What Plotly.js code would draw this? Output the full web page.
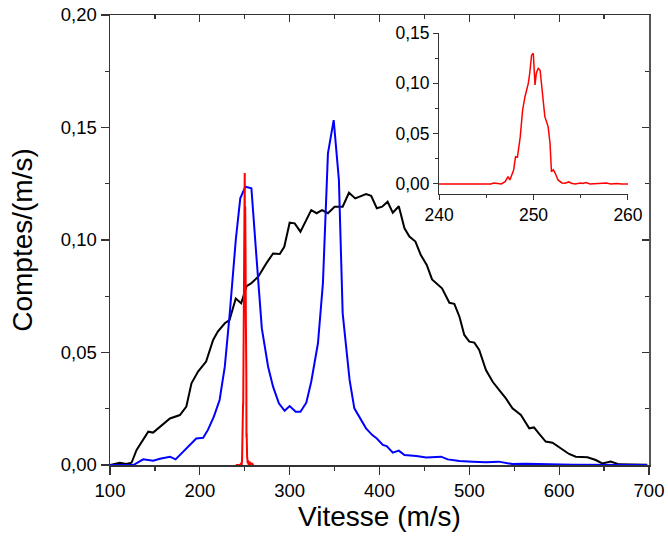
<!DOCTYPE html>
<html>
<head>
<meta charset="utf-8">
<script src="https://cdn.plot.ly/plotly-3.0.1.min.js"></script>
<style>html,body{margin:0;padding:0;background:#fff;}#chart{width:668px;height:538px;}</style>
</head>
<body>
<div id="chart"></div>
<script>
// Black curve
const blackV = [100,111,118,124,129.6,142.6,148,157,166.7,177.8,185,190.7,198,207,214.8,220,227.8,233,240,246,252,257,265,274,281.5,289,294,300,305.6,312,318.5,324,330,336,342.6,350,359,366,373,385,390.7,397,403,409,414.8,421.5,427.8,433.3,440,446,452.6,458.5,469.6,477.8,483.3,489,494.4,500,505.6,511,518.5,526,533.3,540.7,548,557.4,566.7,572,577.8,585,592.6,602,611,618.5,631.5,640.7,648,657.4,666.7,681.5,698];
const blackY = [0,0.001,0.0005,0.001,0.0067,0.0148,0.0144,0.0173,0.0207,0.0222,0.026,0.0363,0.0415,0.046,0.0556,0.0593,0.063,0.0644,0.074,0.0719,0.0795,0.0807,0.0837,0.0896,0.094,0.0938,0.097,0.1077,0.1074,0.1037,0.1089,0.1133,0.1119,0.1133,0.1119,0.1148,0.1148,0.121,0.1185,0.1204,0.1196,0.1141,0.1148,0.117,0.1121,0.115,0.1052,0.1015,0.0993,0.0933,0.0889,0.0825,0.0785,0.0721,0.0716,0.0659,0.0578,0.0548,0.0544,0.0511,0.0422,0.037,0.0333,0.0296,0.0252,0.0222,0.0163,0.0167,0.0138,0.0104,0.0099,0.0074,0.0049,0.0037,0.0034,0.0022,0.0007,0.0015,0.0003,0.0002,0.0001];
// Blue curve
const blueV = [100,126,137,148,155.6,166.7,173,185,196,203.7,209,215.6,222,227.8,233.3,240,245,250.7,257.4,263,269,276,281.5,288,294.4,300,306.7,312,318.5,324,331.5,337,342.6,349,354.8,359,366.7,372,379.6,385,392,397,403.7,408,414.8,421.5,427.8,441,452,463,468.5,476,489,503.7,518.5,533,548,563,585,615,698];
const blueY = [0,0,0.0025,0.0019,0.0028,0.0037,0.0025,0.0074,0.0118,0.0121,0.0156,0.0215,0.0289,0.0437,0.0674,0.1,0.1185,0.1237,0.123,0.0926,0.0607,0.0437,0.0348,0.0274,0.0241,0.0262,0.0237,0.0237,0.0277,0.037,0.0541,0.0807,0.1385,0.1533,0.1267,0.0674,0.0378,0.0252,0.02,0.0163,0.0133,0.0118,0.0089,0.0084,0.0055,0.0064,0.0044,0.004,0.0033,0.0037,0.0037,0.0025,0.0018,0.0015,0.0012,0.0015,0.0004,0.0006,0.0003,0.0001,0];
// Red curve (shown in main plot and in inset)
const redV = [240,245.5,245.8,246.3,246.6,247,247.3,247.5,247.9,248.1,248.3,248.6,248.85,249.1,249.45,249.6,249.8,249.98,250.16,250.3,250.5,250.7,250.9,251.2,251.55,251.75,251.9,252.1,252.3,252.6,253,253.3,253.75,254,254.4,255,255.2,255.55,256,256.5,257,257.7,258.2,258.8,259.3,260];
const redY = [0,0,0.001,0.0007,0,0.0023,0.0073,0.004,0.0139,0.0271,0.0265,0.047,0.0735,0.0867,0.1,0.11,0.1281,0.1298,0.0983,0.11,0.1149,0.113,0.0934,0.0669,0.057,0.0404,0.0122,0.0142,0.0106,0.004,0.001,0.0007,0.002,0.0007,0,0.001,0.0005,0.0015,0,0.0003,0,0.001,0,0.0005,0,0];

const xTicks = [100,200,300,400,500,600,700];
const yTicks = [0,0.05,0.10,0.15,0.20];
const insetXTicks = [240,250,260];
const insetYTicks = [0,0.05,0.10,0.15];

const FONT = 'Liberation Sans, Arial, sans-serif';
const AX = '#333';

const traces = [
  {x: blackV, y: blackY, mode: 'lines', line: {color: '#000', width: 2}, xaxis: 'x', yaxis: 'y', hoverinfo: 'skip'},
  {x: blueV, y: blueY, mode: 'lines', line: {color: '#0000ff', width: 2}, xaxis: 'x', yaxis: 'y', hoverinfo: 'skip'},
  {x: redV, y: redY, mode: 'lines', line: {color: '#ff0000', width: 2}, xaxis: 'x', yaxis: 'y', hoverinfo: 'skip'},
  {x: redV, y: redY, mode: 'lines', line: {color: '#ff0000', width: 1.5}, xaxis: 'x2', yaxis: 'y2', hoverinfo: 'skip'}
];

const layout = {
  width: 668, height: 538,
  margin: {l: 110, r: 19, t: 15, b: 73},
  paper_bgcolor: '#fff', plot_bgcolor: 'rgba(0,0,0,0)',
  separators: ', ',
  showlegend: false,
  font: {family: FONT, color: '#000'},
  xaxis: {
    domain: [0, 1], range: [100, 700], tickvals: xTicks, ticktext: xTicks.map(String),
    ticks: 'outside', ticklen: 8, tickwidth: 1.3, tickcolor: AX,
    minor: {dtick: 50, ticks: 'outside', ticklen: 4, tickcolor: AX, tickwidth: 1.3},
    showline: true, linecolor: AX, linewidth: 1.5, showgrid: false, zeroline: false,
    tickfont: {size: 18.5, family: FONT},
    title: {text: 'Vitesse (m/s)', font: {size: 28, family: FONT}, standoff: 4}
  },
  yaxis: {
    domain: [0, 1], range: [0, 0.20], tickvals: yTicks, tickformat: '.2f',
    ticks: 'outside', ticklen: 8, tickwidth: 1.3, tickcolor: AX,
    minor: {dtick: 0.025, ticks: 'outside', ticklen: 4, tickcolor: AX, tickwidth: 1.3},
    showline: true, linecolor: AX, linewidth: 1.5, showgrid: false, zeroline: false,
    tickfont: {size: 18.5, family: FONT},
    title: {text: 'Comptes/(m/s)', font: {size: 28, family: FONT}, standoff: 20}
  },
  xaxis3: {
    overlaying: 'x', side: 'top', anchor: 'y', range: [100, 700], tickvals: xTicks,
    ticks: 'inside', ticklen: 7, tickwidth: 1.3, tickcolor: AX, showticklabels: false,
    minor: {dtick: 50, ticks: 'inside', ticklen: 4, tickcolor: AX, tickwidth: 1.3},
    showline: true, linecolor: AX, linewidth: 1.5, showgrid: false, zeroline: false
  },
  yaxis3: {
    overlaying: 'y', side: 'right', anchor: 'x', range: [0, 0.20], tickvals: yTicks,
    ticks: 'inside', ticklen: 7, tickwidth: 1.3, tickcolor: AX, showticklabels: false,
    minor: {dtick: 0.025, ticks: 'inside', ticklen: 4, tickcolor: AX, tickwidth: 1.3},
    showline: true, linecolor: '#555', linewidth: 2, showgrid: false, zeroline: false
  },
  xaxis2: {
    domain: [0.6104, 0.961], anchor: 'y2', range: [240, 260], tickvals: insetXTicks,
    ticks: 'outside', ticklen: 5, tickwidth: 1, tickcolor: AX,
    minor: {dtick: 5, ticks: 'outside', ticklen: 3, tickcolor: AX, tickwidth: 1},
    showline: true, linecolor: AX, linewidth: 1, showgrid: false, zeroline: false,
    tickfont: {size: 17.5, family: FONT}
  },
  yaxis2: {
    domain: [0.6022, 0.96], anchor: 'x2', range: [-0.01, 0.15], tickvals: insetYTicks, tickformat: '.2f',
    ticks: 'outside', ticklen: 5, tickwidth: 1, tickcolor: AX,
    minor: {tickvals: [0.025, 0.075, 0.125], ticks: 'outside', ticklen: 3, tickcolor: AX, tickwidth: 1},
    showline: true, linecolor: AX, linewidth: 1, showgrid: false, zeroline: false,
    tickfont: {size: 17.5, family: FONT}
  }
};

// invisible point so the mirrored frame axes are drawn
traces.push({x: [100], y: [0], mode: 'markers', marker: {opacity: 0}, xaxis: 'x3', yaxis: 'y3', hoverinfo: 'skip'});

Plotly.newPlot('chart', traces, layout, {staticPlot: true});
</script>
</body>
</html>
